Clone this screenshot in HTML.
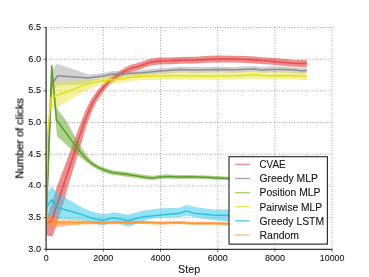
<!DOCTYPE html>
<html><head><meta charset="utf-8"><title>chart</title>
<style>html,body{margin:0;padding:0;background:#fff}body{width:369px;height:277px;overflow:hidden;font-family:"Liberation Sans",sans-serif}</style>
</head><body>
<svg width="369" height="277" viewBox="0 0 369 277" style="display:block">
<rect width="369" height="277" fill="#fff"/>
<path d="M103.30,27.50V249.30M160.50,27.50V249.30M217.70,27.50V249.30M274.90,27.50V249.30M332.10,27.50V249.30M46.10,217.61H332.10M46.10,185.93H332.10M46.10,154.24H332.10M46.10,122.56H332.10M46.10,90.87H332.10M46.10,59.19H332.10M46.10,27.50H332.10" stroke="#555" stroke-width="0.65" stroke-dasharray="0.8 1.76" fill="none"/>
<clipPath id="c"><rect x="46.1" y="27.5" width="286.0" height="221.8"/></clipPath>
<g clip-path="url(#c)">
<path d="M46.1,222.0 L48.0,215.0 L52.8,200.0 L55.8,190.0 L57.5,185.0 L67.0,160.0 L78.0,130.0 L80.5,123.2 L82.8,117.5 L86.0,109.4 L90.0,101.3 L94.5,94.5 L98.2,89.6 L100.9,86.4 L103.4,83.4 L109.9,77.1 L114.0,74.4 L119.5,71.0 L125.0,67.7 L130.8,64.8 L136.3,63.4 L141.7,61.8 L150.4,58.8 L160.0,57.6 L171.0,57.4 L180.0,56.9 L195.0,56.7 L206.0,56.0 L217.0,55.6 L235.0,55.7 L246.0,56.1 L255.0,56.6 L262.0,57.2 L270.0,57.8 L286.0,59.1 L295.0,60.0 L301.0,60.1 L306.8,60.1 L306.8,66.9 L301.0,66.9 L295.0,66.8 L286.0,65.9 L270.0,64.6 L262.0,64.0 L255.0,63.4 L246.0,62.9 L235.0,62.5 L217.0,62.4 L206.0,62.8 L195.0,63.5 L180.0,63.7 L171.0,64.2 L160.0,64.4 L150.4,65.6 L141.7,68.8 L136.3,70.4 L130.8,71.8 L125.0,74.7 L119.5,78.0 L114.0,81.6 L109.9,84.5 L103.4,91.2 L100.5,96.3 L96.8,101.3 L92.8,109.4 L89.6,117.5 L87.3,123.2 L85.3,130.0 L76.2,160.0 L68.3,185.0 L66.9,190.0 L64.5,200.0 L59.6,215.0 L55.6,228.0 L52.3,236.7 L46.1,235.3Z" fill="#e41a1c" fill-opacity="0.5"/>
<path d="M46.1,222.0 L51.6,70.0 L57.2,63.8 L88.8,74.5 L95.8,74.1 L103.4,73.1 L112.1,71.0 L117.5,71.0 L120.0,71.4 L131.0,70.4 L142.0,69.9 L150.0,69.0 L160.0,68.2 L171.0,67.4 L180.0,66.6 L195.0,67.1 L217.0,66.7 L235.0,66.9 L246.0,66.3 L255.0,66.0 L262.0,67.0 L270.0,66.6 L286.0,66.6 L295.0,67.1 L301.0,67.9 L306.8,67.5 L306.8,73.3 L301.0,73.7 L295.0,72.9 L286.0,72.4 L270.0,72.4 L262.0,72.8 L255.0,71.8 L246.0,72.1 L235.0,72.7 L217.0,72.5 L195.0,72.9 L180.0,72.4 L171.0,73.2 L160.0,74.0 L150.0,74.8 L142.0,75.7 L131.0,76.2 L120.0,77.2 L117.5,76.8 L112.1,76.8 L103.4,78.9 L95.8,79.9 L88.8,82.5 L82.0,84.4 L57.4,85.5 L51.6,92.0 L46.1,226.0Z" fill="#9a9a9a" fill-opacity="0.45"/>
<path d="M45.9,221.0 L51.5,64.2 L56.7,108.0 L65.7,120.0 L79.0,143.4 L83.0,149.8 L86.5,154.8 L90.8,159.8 L95.0,163.2 L99.0,165.4 L103.3,167.2 L108.0,168.9 L112.5,170.3 L120.0,171.2 L128.0,172.3 L136.7,173.7 L145.0,175.0 L152.0,175.7 L156.0,175.4 L160.8,174.8 L168.4,174.4 L177.0,175.1 L190.0,174.9 L206.0,175.5 L217.0,176.1 L229.0,176.7 L229.0,180.1 L217.0,179.7 L206.0,179.1 L190.0,178.7 L177.0,179.1 L168.4,178.6 L160.8,179.0 L156.0,179.8 L152.0,180.1 L145.0,179.4 L136.7,178.1 L128.0,176.9 L120.0,175.8 L112.5,174.9 L108.0,173.5 L103.3,172.0 L99.0,170.2 L95.0,168.0 L90.8,165.4 L87.3,162.8 L80.0,157.0 L72.2,150.0 L57.0,136.3 L52.0,82.0 L45.9,227.0Z" fill="#6aaa2e" fill-opacity="0.55"/>
<path d="M46.1,222.0 L47.2,130.0 L51.2,84.0 L57.4,81.7 L82.0,80.0 L88.8,79.9 L95.8,78.7 L106.7,76.8 L117.5,75.7 L125.0,75.0 L131.0,73.7 L142.0,73.0 L150.0,72.7 L160.0,72.5 L171.0,72.3 L180.0,72.2 L195.0,72.5 L217.0,72.5 L235.0,72.2 L246.0,71.7 L255.0,71.1 L262.0,72.0 L270.0,72.3 L286.0,72.0 L295.0,72.3 L301.0,72.5 L306.8,72.8 L306.8,80.1 L301.0,79.8 L295.0,79.6 L286.0,79.3 L270.0,79.6 L262.0,79.3 L255.0,78.4 L246.0,79.0 L235.0,79.5 L217.0,79.8 L195.0,79.8 L180.0,79.5 L171.0,79.6 L160.0,79.8 L150.0,80.0 L142.0,80.3 L131.0,81.0 L125.0,82.3 L117.5,83.0 L106.7,84.1 L95.8,86.3 L85.5,91.0 L56.6,107.5 L51.2,108.4 L47.2,146.0 L46.1,226.0Z" fill="#e8e63a" fill-opacity="0.5"/>
<path d="M46.1,195.0 L51.4,186.5 L57.5,193.0 L82.0,207.6 L92.0,211.7 L103.0,214.2 L115.2,212.2 L128.2,214.8 L143.4,210.4 L160.7,208.3 L180.0,207.8 L180.8,207.3 L186.3,205.0 L196.0,207.3 L213.4,209.4 L229.0,209.6 L229.0,221.4 L213.4,220.2 L196.0,217.5 L186.3,215.5 L180.0,217.2 L160.0,217.6 L150.0,219.0 L141.7,221.5 L135.0,224.5 L128.2,226.8 L113.0,222.1 L102.9,225.8 L92.0,222.5 L82.0,220.6 L58.3,219.3 L51.9,214.0 L46.1,218.0Z" fill="#3ccbe8" fill-opacity="0.55"/>
<path d="M46.1,219.5 L52.3,216.3 L58.3,220.0 L100.0,221.1 L122.0,221.0 L143.4,220.8 L160.7,221.5 L180.0,220.9 L191.7,221.8 L213.4,221.8 L229.0,222.3 L229.0,225.5 L213.4,224.9 L191.7,224.9 L180.0,224.1 L160.7,224.7 L143.4,223.9 L122.0,224.2 L100.0,224.2 L82.0,224.6 L57.2,227.1 L52.3,226.8 L46.1,226.5Z" fill="#ff9a3c" fill-opacity="0.62"/>
<path d="M46.1,223.5 L51.5,221.0 L58.8,200.0 L63.5,185.0 L71.9,160.0 L81.6,130.0 L83.9,123.2 L86.2,117.5 L89.4,109.4 L93.4,101.3 L98.2,93.8 L100.9,90.3 L103.4,87.3 L109.9,80.8 L114.0,78.0 L119.5,74.5 L125.0,71.2 L130.8,68.3 L136.3,66.9 L141.7,65.3 L150.4,62.2 L160.0,61.0 L171.0,60.8 L180.0,60.3 L195.0,60.1 L206.0,59.4 L217.0,59.0 L235.0,59.1 L246.0,59.5 L255.0,60.0 L262.0,60.6 L270.0,61.2 L286.0,62.5 L295.0,63.4 L301.0,63.5 L306.8,63.5" fill="none" stroke="#e3262e" stroke-opacity="0.62" stroke-width="1.5" stroke-linejoin="round"/>
<path d="M46.1,224.0 L51.6,84.5 L57.6,75.7 L85.0,77.7 L88.8,78.0 L95.8,77.0 L103.4,76.0 L112.1,73.9 L117.5,73.9 L120.0,74.3 L131.0,73.3 L142.0,72.8 L150.0,71.9 L160.0,71.1 L171.0,70.3 L180.0,69.5 L195.0,70.0 L217.0,69.6 L235.0,69.8 L246.0,69.2 L255.0,68.9 L262.0,69.9 L270.0,69.5 L286.0,69.5 L295.0,70.0 L301.0,70.8 L306.8,70.4" fill="none" stroke="#868686" stroke-opacity="0.9" stroke-width="1.5" stroke-linejoin="round"/>
<path d="M45.9,224.0 L51.7,65.8 L56.5,120.0 L76.5,147.1 L80.0,151.6 L84.0,156.2 L87.3,159.8 L90.8,162.8 L95.0,165.6 L99.0,167.8 L103.3,169.6 L108.0,171.2 L112.5,172.6 L120.0,173.5 L128.0,174.6 L136.7,175.9 L145.0,177.2 L152.0,177.9 L156.0,177.6 L160.8,176.9 L168.4,176.5 L177.0,177.1 L190.0,176.8 L206.0,177.3 L217.0,177.9 L229.0,178.4" fill="none" stroke="#5a9c24" stroke-opacity="0.95" stroke-width="1.5" stroke-linejoin="round"/>
<path d="M46.1,224.0 L47.2,138.0 L51.2,97.3 L72.1,90.0 L85.0,84.7 L95.8,82.0 L106.7,80.3 L117.5,79.2 L125.0,78.5 L131.0,77.2 L142.0,76.5 L150.0,76.2 L160.0,76.0 L171.0,75.8 L180.0,75.7 L195.0,76.0 L217.0,76.0 L235.0,75.7 L246.0,75.2 L255.0,74.6 L262.0,75.5 L270.0,75.8 L286.0,75.5 L295.0,75.8 L301.0,76.0 L306.8,76.3" fill="none" stroke="#e1df1c" stroke-opacity="1.0" stroke-width="1.5" stroke-linejoin="round"/>
<path d="M46.1,207.6 L51.8,199.8 L58.3,207.8 L82.0,214.6 L92.0,218.2 L102.9,220.2 L113.0,217.8 L128.2,220.6 L143.4,216.7 L160.7,215.0 L180.0,213.3 L180.8,212.9 L186.3,210.9 L194.0,213.2 L213.4,215.0 L229.0,215.4" fill="none" stroke="#1fbfe0" stroke-opacity="0.9" stroke-width="1.5" stroke-linejoin="round"/>
<path d="M46.1,223.5 L52.3,219.0 L56.6,222.2 L100.0,222.7 L122.0,222.6 L143.4,222.3 L160.7,223.1 L180.0,222.5 L191.7,223.3 L213.4,223.3 L229.0,223.9" fill="none" stroke="#ff9130" stroke-opacity="0.9" stroke-width="1.5" stroke-linejoin="round"/>
</g>
<path d="M46.10,27.50V249.30H332.10" stroke="#333" stroke-width="1.25" fill="none"/>
<path d="M46.10,248.80v3M103.30,248.80v3M160.50,248.80v3M217.70,248.80v3M274.90,248.80v3M332.10,248.80v3M46.60,249.30h-3M46.60,217.61h-3M46.60,185.93h-3M46.60,154.24h-3M46.60,122.56h-3M46.60,90.87h-3M46.60,59.19h-3M46.60,27.50h-3" stroke="#2a2a2a" stroke-width="0.7" fill="none"/>
<g font-family="Liberation Sans, sans-serif" font-size="8.8" fill="#151515" stroke="#151515" stroke-width="0.1" style="filter:grayscale(1)">
<text x="43.65" y="260.9" textLength="4.9" lengthAdjust="spacingAndGlyphs">0</text>
<text x="93.30" y="260.9" textLength="20.0" lengthAdjust="spacingAndGlyphs">2000</text>
<text x="150.50" y="260.9" textLength="20.0" lengthAdjust="spacingAndGlyphs">4000</text>
<text x="207.70" y="260.9" textLength="20.0" lengthAdjust="spacingAndGlyphs">6000</text>
<text x="264.90" y="260.9" textLength="20.0" lengthAdjust="spacingAndGlyphs">8000</text>
<text x="319.80" y="260.9" textLength="24.6" lengthAdjust="spacingAndGlyphs">10000</text>
<text x="28.30" y="251.75" textLength="12.7" lengthAdjust="spacingAndGlyphs">3.0</text>
<text x="28.30" y="220.06" textLength="12.7" lengthAdjust="spacingAndGlyphs">3.5</text>
<text x="28.30" y="188.38" textLength="12.7" lengthAdjust="spacingAndGlyphs">4.0</text>
<text x="28.30" y="156.69" textLength="12.7" lengthAdjust="spacingAndGlyphs">4.5</text>
<text x="28.30" y="125.01" textLength="12.7" lengthAdjust="spacingAndGlyphs">5.0</text>
<text x="28.30" y="93.32" textLength="12.7" lengthAdjust="spacingAndGlyphs">5.5</text>
<text x="28.30" y="61.64" textLength="12.7" lengthAdjust="spacingAndGlyphs">6.0</text>
<text x="28.30" y="29.95" textLength="12.7" lengthAdjust="spacingAndGlyphs">6.5</text>
</g>
<g font-family="Liberation Sans, sans-serif" font-size="10.6" fill="#151515" stroke="#151515" stroke-width="0.1" style="filter:grayscale(1)">
<text x="178.10" y="272.7" textLength="22.0" lengthAdjust="spacingAndGlyphs">Step</text>
<text transform="translate(23.4,178.60) rotate(-90)" textLength="80.4" lengthAdjust="spacingAndGlyphs" fill="#000" stroke="#000" stroke-width="0.2">Number of clicks</text>
</g>
<rect x="229.0" y="156.7" width="98.39999999999998" height="87.4" fill="#fff" stroke="#333" stroke-width="1.2"/>
<path d="M235.2,164.4H249.8" stroke="#f48a8c" stroke-width="1.3"/>
<path d="M235.2,178.5H249.8" stroke="#a3a3a3" stroke-width="1.3"/>
<path d="M235.2,192.7H249.8" stroke="#a0d068" stroke-width="1.3"/>
<path d="M235.2,206.8H249.8" stroke="#e9e83c" stroke-width="1.3"/>
<path d="M235.2,220.9H249.8" stroke="#45cdee" stroke-width="1.3"/>
<path d="M235.2,235.0H249.8" stroke="#ffb873" stroke-width="1.3"/>
<g font-family="Liberation Sans, sans-serif" font-size="10.2" fill="#151515" stroke="#151515" stroke-width="0.1" style="filter:grayscale(1)">
<text x="259.5" y="168.15" textLength="26.0" lengthAdjust="spacingAndGlyphs">CVAE</text>
<text x="259.5" y="182.25" textLength="58.4" lengthAdjust="spacingAndGlyphs">Greedy MLP</text>
<text x="259.5" y="196.45" textLength="61.0" lengthAdjust="spacingAndGlyphs">Position MLP</text>
<text x="259.5" y="210.55" textLength="62.6" lengthAdjust="spacingAndGlyphs">Pairwise MLP</text>
<text x="259.5" y="224.65" textLength="64.6" lengthAdjust="spacingAndGlyphs">Greedy LSTM</text>
<text x="259.5" y="238.75" textLength="39.6" lengthAdjust="spacingAndGlyphs">Random</text>
</g>
</svg>
</body></html>
